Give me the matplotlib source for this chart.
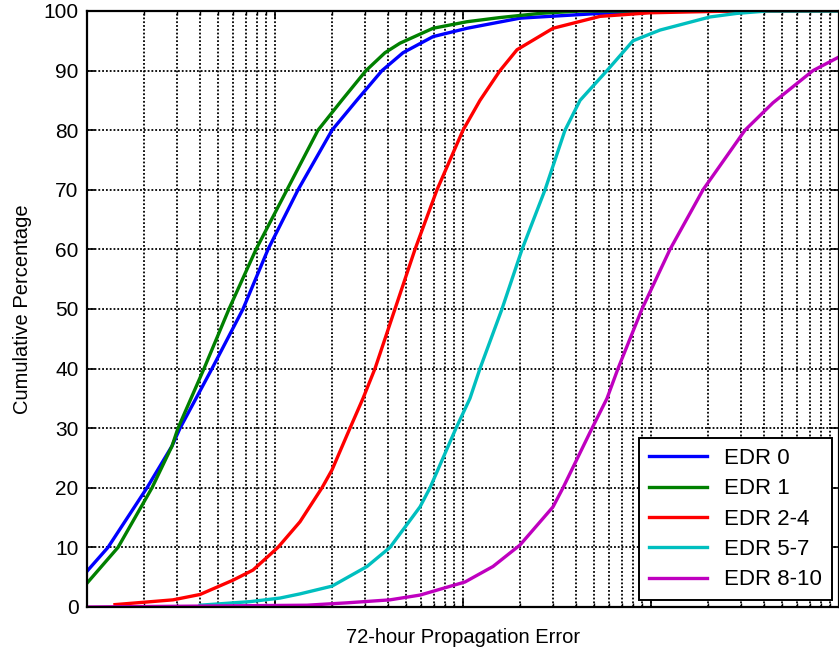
import matplotlib
matplotlib.use("Agg")
import matplotlib.pyplot as plt
from matplotlib.ticker import LogLocator, NullFormatter, MultipleLocator

plt.rcParams["font.family"] = ["Liberation Sans", "DejaVu Sans"]

# values (x: propagation error on a log axis, y: cumulative %)
edr0_x = [1.0, 1.293, 2.085, 2.832, 3.124, 4.623, 6.757, 9.18, 13.26, 20.10,
          27.2, 37.08, 47.97, 69.26, 105.0, 201.0, 535.4, 1427, 10000]
edr0_y = [6, 10, 20, 27, 30, 40, 50, 60, 70, 80, 85, 90, 93, 95.7, 97.1, 98.8,
          99.6, 100, 100]

edr1_x = [1.0, 1.462, 2.217, 2.832, 3.048, 4.192, 5.692, 7.924, 11.58, 16.93,
          22.64, 30.48, 38.47, 46.23, 69.26, 105.0, 157.3, 256.8, 419.2, 10000]
edr1_y = [4, 10, 20, 27, 30, 40, 50, 60, 70, 80, 85, 90, 93, 94.6, 97.1, 98.2,
          98.9, 99.6, 100, 100]

edr24_x = [1.409, 2.868, 3.992, 5.978, 7.638, 10.37, 13.58, 17.78, 20.10, 25.05,
           29.38, 34.03, 43.47, 55.54, 72.72, 100.0, 123.1, 157.3, 193.8, 301.1,
           535.4, 987.9, 2731, 10000]
edr24_y = [0.4, 1.2, 2.1, 4.5, 6.2, 10, 14.3, 20, 23, 30, 35, 40, 50, 60, 70, 80,
           85, 90, 93.5, 97.1, 99.1, 99.7, 100, 100]

edr57_x = [3.992, 7.362, 10.63, 13.58, 20.10, 30.86, 40.89, 59.06, 66.76, 91.80,
           108.9, 123.1, 161.2, 206.0, 273.1, 348.8, 419.2, 583.4, 802.2, 1117,
           2060, 2867, 4140, 10000]
edr57_y = [0.3, 0.9, 1.5, 2.2, 3.5, 6.8, 10, 16.8, 20, 30, 35, 40, 50, 60, 70, 80,
           85, 90, 95, 96.8, 99, 99.6, 100, 100]

edr810_x = [1.0, 14.80, 24.15, 40.89, 59.06, 102.5, 144.4, 201.0, 301.1, 340.4,
            485.7, 583.4, 667.5, 895.6, 1262, 1891, 3162, 4455, 7272, 9878]
edr810_y = [0, 0.3, 0.7, 1.2, 2.0, 4.2, 6.8, 10.4, 16.8, 20, 30, 35, 40, 50, 60,
            70, 80, 84.6, 90, 92.2]

series = [
    ("EDR 0", edr0_x, edr0_y, (0, 0, 1)),
    ("EDR 1", edr1_x, edr1_y, (0, 0.5, 0)),
    ("EDR 2-4", edr24_x, edr24_y, (1, 0, 0)),
    ("EDR 5-7", edr57_x, edr57_y, (0, 0.75, 0.75)),
    ("EDR 8-10", edr810_x, edr810_y, (0.75, 0, 0.75)),
]

fig = plt.figure(figsize=(8.39, 6.54), dpi=100)
ax = fig.add_axes([87 / 839, 1 - 607 / 654, 752 / 839, 596 / 654])

for label, xs, ys, col in series:
    ax.plot(xs, ys, color=col, lw=2.4, label=label)

ax.set_xscale("log")
ax.set_xlim(1, 10000)
ax.set_ylim(0, 100)
ax.yaxis.set_major_locator(MultipleLocator(10))
ax.xaxis.set_major_locator(LogLocator(base=10))
ax.xaxis.set_minor_locator(LogLocator(base=10, subs=range(2, 10)))
ax.xaxis.set_major_formatter(NullFormatter())
ax.xaxis.set_minor_formatter(NullFormatter())

dots = (0, (1, 1.1))
ax.grid(True, which="major", axis="both", color="black", linestyle=dots, lw=1.3)
ax.grid(True, which="minor", axis="x", color="black", linestyle=dots, lw=1.3)

ax.tick_params(which="both", direction="in", top=True, right=True, labelsize=15, pad=6)
ax.tick_params(which="major", length=6, width=1.2)
ax.tick_params(which="minor", length=3, width=1.0)
for sp in ax.spines.values():
    sp.set_linewidth(1.6)

ax.set_xlabel("72-hour Propagation Error", fontsize=14.5, labelpad=9)
ax.set_ylabel("Cumulative Percentage", fontsize=14.5, labelpad=8)

leg = ax.legend(loc="lower right", fontsize=16, frameon=True, fancybox=False,
                edgecolor="black", framealpha=1, handlelength=2.6,
                labelspacing=0.42, borderaxespad=0.3, borderpad=0.45)
leg.get_frame().set_linewidth(1.4)

fig.savefig("out.png", dpi=100)
